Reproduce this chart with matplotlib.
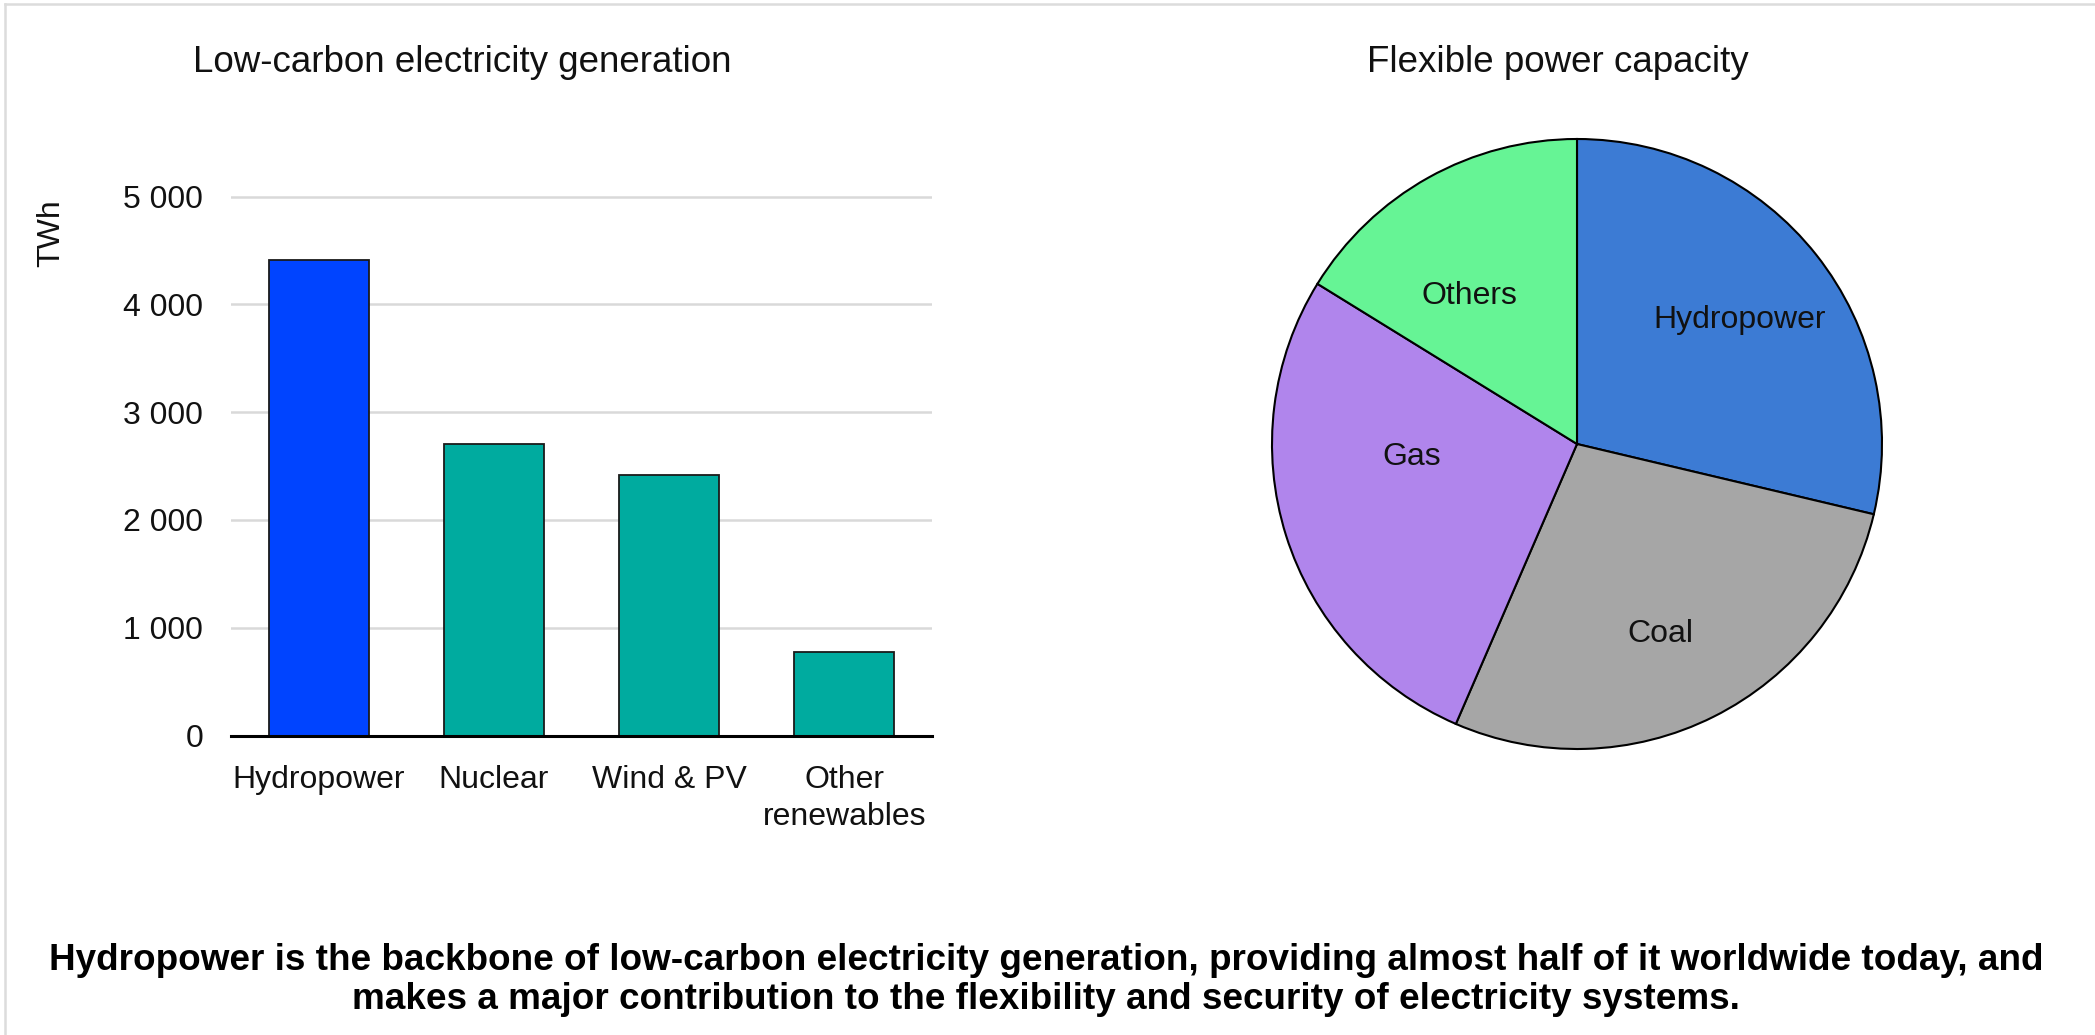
import matplotlib
matplotlib.use('Agg')
import matplotlib.pyplot as plt
import numpy as np
from matplotlib.lines import Line2D

plt.rcParams['font.family'] = ['Liberation Sans', 'DejaVu Sans']

# Dados
bar_categories = ['Hydropower', 'Nuclear', 'Wind & PV', 'Other\nrenewables']
bar_values = [4410, 2700, 2415, 775]
bar_colors = ['#0044ff', '#00ab9f', '#00ab9f', '#00ab9f']
y_ticks = [0, 1000, 2000, 3000, 4000, 5000]
y_ticklabels = ['0', '1 000', '2 000', '3 000', '4 000', '5 000']

pie_labels = ['Hydropower', 'Coal', 'Gas', 'Others']
pie_values = [28.7, 27.8, 27.3, 16.2]
pie_colors = ['#3c7bd4', '#a6a6a6', '#b085ec', '#66f495']
# posição dos rótulos: (fração do raio, ajuste de ângulo em graus)
pie_label_pos = [(0.67, -1), (0.68, -3), (0.545, -13), (0.60, 7)]

caption = ("Hydropower is the backbone of low-carbon electricity generation, providing almost half of it worldwide today, and\n"
           "makes a major contribution to the flexibility and security of electricity systems.")

W, H = 2095, 1035
fig = plt.figure(figsize=(W / 100, H / 100), dpi=100)
fig.patch.set_facecolor('white')

# Moldura leve (topo e esquerda)
fig.add_artist(Line2D([5 / W, 1], [1 - 3.5 / H, 1 - 3.5 / H], transform=fig.transFigure,
                      color='#dcdcdc', lw=1.8))
fig.add_artist(Line2D([5 / W, 5 / W], [0, 1 - 3.5 / H], transform=fig.transFigure,
                      color='#dcdcdc', lw=1.8))

# ---- Gráfico de barras ----
ymax = 5200
px_per_unit = 107.8 / 1000
ax = fig.add_axes([231 / W, (H - 735.5) / H, 701 / W, ymax * px_per_unit / H])
x = np.arange(len(bar_categories))
ax.bar(x, bar_values, width=0.57, color=bar_colors, edgecolor='#1a1a1a', linewidth=1.3, zorder=3)
ax.set_xlim(-0.5, len(bar_categories) - 0.5)
ax.set_ylim(0, ymax)
ax.set_yticks(y_ticks)
ax.set_yticklabels(y_ticklabels)
ax.set_xticks(x)
ax.set_xticklabels(bar_categories, linespacing=1.3)
for s in ['top', 'right', 'left']:
    ax.spines[s].set_visible(False)
ax.spines['bottom'].set_linewidth(2.2)
ax.spines['bottom'].set_color('black')
ax.spines['bottom'].set_zorder(4)
ax.grid(axis='y', color='#d9d9d9', linewidth=1.8, zorder=0)
ax.tick_params(axis='both', length=0, labelsize=23, colors='#111111')
ax.tick_params(axis='y', pad=20)
ax.tick_params(axis='x', pad=21)

fig.text(462 / W, 1 - 63 / H, 'Low-carbon electricity generation', fontsize=26.5,
         ha='center', va='center', color='#111111')
fig.text(51 / W, 1 - 233 / H, 'TWh', fontsize=23, rotation=90, ha='center', va='center',
         color='#111111')

# ---- Gráfico de pizza ----
r_px = 305
cx, cy = 1577, 444
axp = fig.add_axes([(cx - r_px) / W, (H - cy - r_px) / H, 2 * r_px / W, 2 * r_px / H])
wedges, _ = axp.pie(pie_values, colors=pie_colors, startangle=90, counterclock=False,
                    wedgeprops=dict(edgecolor='black', linewidth=1.5))
for w, lab, (rf, da) in zip(wedges, pie_labels, pie_label_pos):
    ang = np.deg2rad((w.theta1 + w.theta2) / 2 + da)
    axp.text(rf * np.cos(ang), rf * np.sin(ang), lab, fontsize=23, ha='center', va='center',
             color='#111111')
axp.set_xlim(-1, 1)
axp.set_ylim(-1, 1)
axp.set_aspect('equal')
axp.axis('off')

fig.text(1558 / W, 1 - 63 / H, 'Flexible power capacity', fontsize=26.5,
         ha='center', va='center', color='#111111')

# ---- Legenda inferior ----
fig.text(1046 / W, 1 - 980 / H, caption, fontsize=26.6, fontweight='bold', ha='center',
         va='center', multialignment='center', linespacing=1.15, color='black')

fig.savefig('out.png', dpi=100, facecolor='white')
